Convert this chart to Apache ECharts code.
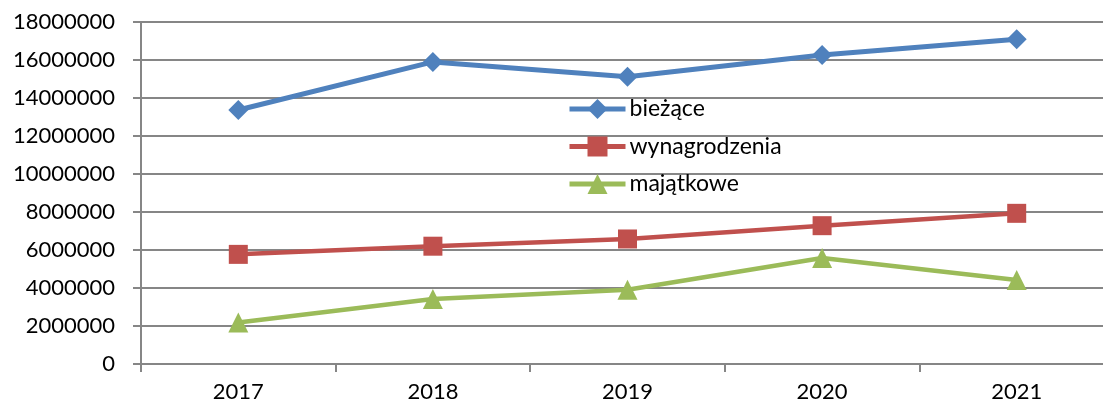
<!DOCTYPE html>
<html>
<head>
<meta charset="utf-8">
<script src="https://cdn.jsdelivr.net/npm/echarts@6/dist/echarts.min.js"></script>
<style>html,body{margin:0;padding:0;background:#fff;overflow:hidden;width:1103px;height:409px}#c{width:1120px;height:409px}</style>
</head>
<body>
<div id="c"></div>
<script>
var categories = ['2017', '2018', '2019', '2020', '2021'];
var biezace = [13370000, 15900000, 15120000, 16260000, 17090000];
var wynagrodzenia = [5770000, 6200000, 6580000, 7280000, 7930000];
var majatkowe = [2180000, 3420000, 3910000, 5580000, 4420000];
var seriesNames = ['bieżące', 'wynagrodzenia', 'majątkowe'];

var font = 'Lato, "Open Sans", sans-serif';
var chart = echarts.init(document.getElementById('c'));
function mk(name, data, color, symbol, size, width) {
  return {
    name: name, type: 'line', data: data,
    symbol: symbol, symbolSize: size, showSymbol: true,
    lineStyle: { color: color, width: width },
    itemStyle: { color: color },
    emphasis: { disabled: true },
    animation: false
  };
}
chart.setOption({
  animation: false,
  grid: { left: 141, top: 22, right: 6, height: 342, containLabel: false },
  legend: {
    orient: 'vertical', left: 567, top: 97.5, padding: 0,
    itemWidth: 56, itemHeight: 25, itemGap: 14.5,
    lineStyle: { width: 5 },
    textStyle: { fontFamily: font, fontSize: 23, color: '#000', padding: [0,0,0,-1] },
    data: seriesNames
  },
  xAxis: {
    type: 'category', data: categories, boundaryGap: true,
    axisLine: { lineStyle: { color: '#868686', width: 2 } },
    axisTick: { show: true, length: 8, lineStyle: { color: '#868686', width: 2 } },
    axisLabel: { fontFamily: font, fontSize: 22, color: '#000', margin: 17 }
  },
  yAxis: {
    type: 'value', min: 0, max: 18000000, interval: 2000000,
    axisLine: { show: true, lineStyle: { color: '#868686', width: 2 } },
    axisTick: { show: true, length: 8, lineStyle: { color: '#868686', width: 2 } },
    splitLine: { lineStyle: { color: '#868686', width: 2 } },
    axisLabel: { fontFamily: font, fontSize: 22, color: '#000', margin: 26,
      formatter: function (v) { return String(v); } }
  },
  series: [
    mk(seriesNames[0], biezace, '#4F81BD', 'diamond', 20, 5),
    mk(seriesNames[1], wynagrodzenia, '#C0504D', 'rect', 19, 4.5),
    mk(seriesNames[2], majatkowe, '#9BBB59', 'triangle', 20, 4.5)
  ]
});
</script>
</body>
</html>
